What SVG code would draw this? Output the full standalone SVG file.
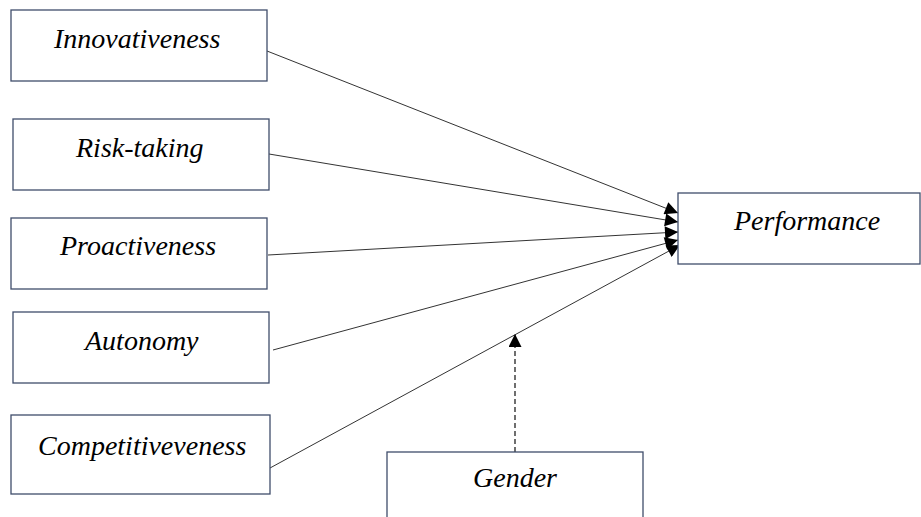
<svg xmlns="http://www.w3.org/2000/svg" width="921" height="517" viewBox="0 0 921 517">
<defs>
<marker id="ah" viewBox="0 0 10 10" refX="10" refY="5" markerWidth="16" markerHeight="13" markerUnits="userSpaceOnUse" orient="auto">
<path d="M0,0 L10,5 L0,10 Z" fill="#000"/>
</marker>
</defs>
<rect width="921" height="517" fill="#fff"/>
<g id="connectors" fill="none">
<g stroke="#333" stroke-width="1" marker-end="url(#ah)">
<line x1="267" y1="51" x2="678" y2="213"/>
<line x1="269" y1="154" x2="678" y2="222"/>
<line x1="268" y1="255" x2="678" y2="232"/>
<line x1="273" y1="350" x2="678" y2="240"/>
<line x1="270" y1="468" x2="680" y2="245"/>
</g>
<line x1="515" y1="452" x2="515" y2="334" stroke="#222" stroke-width="1.3" stroke-dasharray="5,3" marker-end="url(#ah)"/>
</g>
<g id="innovativeness">
<rect x="11" y="10" width="256" height="71" fill="#fff" stroke="#3f4d6b" stroke-width="1.3"/>
<text x="54" y="48" font-family="Liberation Serif" font-style="italic" font-size="28">Innovativeness</text>
</g>
<g id="risk-taking">
<rect x="13" y="119" width="256" height="71" fill="#fff" stroke="#3f4d6b" stroke-width="1.3"/>
<text x="76" y="157" font-family="Liberation Serif" font-style="italic" font-size="28">Risk-taking</text>
</g>
<g id="proactiveness">
<rect x="11" y="218" width="256" height="71" fill="#fff" stroke="#3f4d6b" stroke-width="1.3"/>
<text x="60" y="255" font-family="Liberation Serif" font-style="italic" font-size="28">Proactiveness</text>
</g>
<g id="autonomy">
<rect x="13" y="312" width="256" height="71" fill="#fff" stroke="#3f4d6b" stroke-width="1.3"/>
<text x="85" y="350" font-family="Liberation Serif" font-style="italic" font-size="28">Autonomy</text>
</g>
<g id="competitiveness">
<rect x="11" y="415" width="259" height="79" fill="#fff" stroke="#3f4d6b" stroke-width="1.3"/>
<text x="38" y="455" font-family="Liberation Serif" font-style="italic" font-size="28">Competitiveveness</text>
</g>
<g id="performance">
<rect x="678" y="193" width="242" height="71" fill="#fff" stroke="#3f4d6b" stroke-width="1.3"/>
<text x="734" y="230" font-family="Liberation Serif" font-style="italic" font-size="28">Performance</text>
</g>
<g id="gender">
<rect x="387" y="452" width="256" height="80" fill="#fff" stroke="#3f4d6b" stroke-width="1.3"/>
<text x="473" y="487" font-family="Liberation Serif" font-style="italic" font-size="28">Gender</text>
</g>
</svg>
